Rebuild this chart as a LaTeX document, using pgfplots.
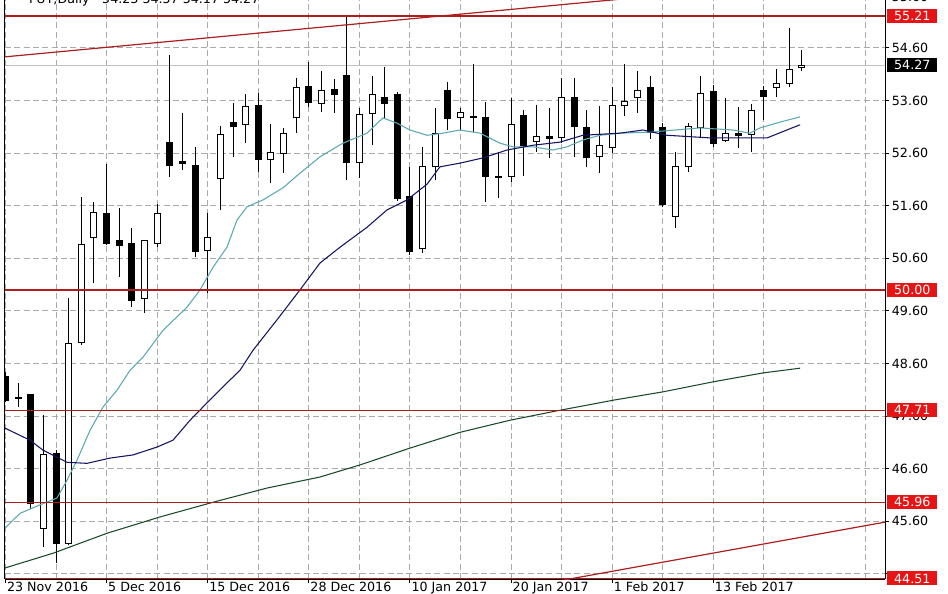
\documentclass[border=0pt]{standalone}
\usepackage{fontspec}
\setmainfont{DejaVu Sans}
\usepackage{pgfplots}
\pgfplotsset{compat=1.18}
\usepackage{pgfplotstable}
\usetikzlibrary{calc}

\definecolor{lvl}{RGB}{175,30,30}
\definecolor{tagred}{RGB}{230,20,20}
\definecolor{maf}{RGB}{90,170,175}
\definecolor{mas}{RGB}{20,20,100}
\definecolor{mal}{RGB}{25,75,40}
\definecolor{gridc}{RGB}{170,170,170}

% daily candles, bar index i (0 = 23 Nov 2016)
\pgfplotstableread{
i o h l c
3 45.47 47.62 45.11 46.86
5 45.18 49.84 45.14 48.97
6 48.99 51.77 48.95 50.87
7 51.00 51.67 50.13 51.48
11 49.84 50.95 49.56 50.93
12 50.89 51.63 50.81 51.46
16 50.74 51.46 49.94 51.00
17 52.11 53.12 51.52 52.96
19 53.14 53.72 52.79 53.48
21 52.47 53.15 52.03 52.62
22 52.60 53.08 52.22 52.98
23 53.27 54.03 52.98 53.84
25 53.55 54.16 53.38 53.80
28 52.43 53.46 52.13 53.33
29 53.36 54.07 52.75 53.71
33 50.78 52.72 50.70 52.34
34 52.34 53.46 52.09 52.98
36 53.27 53.46 53.04 53.38
40 52.15 53.65 52.05 53.14
42 52.83 53.52 52.62 52.91
44 52.89 54.03 52.79 53.65
47 52.53 53.50 52.22 52.75
48 52.70 53.86 52.60 53.50
49 53.50 54.30 53.31 53.59
50 53.65 54.16 53.36 53.80
53 51.40 52.62 51.18 52.34
54 52.34 53.17 52.24 53.10
55 53.08 54.07 52.89 53.74
57 52.85 53.65 52.81 52.98
59 52.96 53.53 52.62 53.42
61 53.84 54.20 53.67 53.93
62 53.92 54.98 53.86 54.20
63 54.23 54.57 54.17 54.27
}\bull

\pgfplotstableread{
i o h l c
0 48.36 48.44 47.87 47.90
1 47.95 48.23 47.77 47.93
2 48.00 48.02 45.83 45.94
4 46.89 46.95 44.80 45.18
8 51.46 52.39 50.85 50.89
9 50.93 51.56 50.24 50.85
10 50.89 51.18 49.67 49.79
13 52.81 54.47 52.15 52.37
14 52.45 53.36 52.28 52.41
15 52.36 52.72 50.62 50.72
18 53.19 53.55 52.53 53.10
20 53.50 53.74 52.24 52.47
24 53.86 54.33 53.48 53.57
26 53.82 54.01 53.36 53.71
27 54.07 55.21 52.09 52.43
30 53.65 54.24 53.27 53.55
31 53.71 53.76 51.69 51.73
32 51.77 52.34 50.66 50.72
35 53.80 53.95 53.04 53.25
37 53.29 54.30 53.00 53.28
38 53.27 53.57 51.67 52.15
39 52.16 52.62 51.75 52.14
41 53.31 53.42 52.17 52.74
43 52.91 53.46 52.51 52.87
45 53.65 54.03 52.53 53.10
46 53.08 53.42 52.34 52.51
51 53.84 54.07 52.87 53.00
52 53.08 53.17 51.58 51.63
56 53.78 53.90 52.72 52.79
58 52.98 53.48 52.70 52.93
60 53.80 53.88 53.23 53.67
}\bear

\begin{document}
\begin{tikzpicture}
\begin{axis}[
    name=ax,
    scale only axis,
    width=660pt, height=434.25pt,
    xmin=-0.04, xmax=69.58,
    ymin=44.50, ymax=55.513,
    clip mode=individual,
    axis x line*=bottom, axis y line*=right,
    axis line style={black, line width=0.75pt, -},
    font=\fontsize{9.5}{11}\selectfont,
    xtick={0,8,...,56},
    xticklabels={23 Nov 2016,5 Dec 2016,15 Dec 2016,28 Dec 2016,10 Jan 2017,20 Jan 2017,1 Feb 2017,13 Feb 2017},
    minor xtick={4,12,...,68},
    ytick={44.6,45.6,46.6,47.6,48.6,49.6,50.6,51.6,52.6,53.6,54.6},
    yticklabels={,45.60,46.60,47.60,48.60,49.60,50.60,51.60,52.60,53.60,54.60},
    grid=both,
    major grid style={gridc, dash pattern=on 4.5pt off 2.5pt, line width=0.75pt},
    minor grid style={gridc, dash pattern=on 4.5pt off 2.5pt, line width=0.75pt},
    tick align=outside,
    major tick length=3pt, minor tick length=0pt,
    tick style={black, line width=0.75pt},
    xticklabel style={anchor=north west, inner sep=0pt, xshift=1pt, yshift=1pt},
    yticklabel style={anchor=west, inner sep=0pt, xshift=2pt},
]
% last price line
\addplot[black!25, line width=0.75pt] coordinates {(-1,54.27) (71,54.27)};

% wicks
\addplot[draw=none, mark=none, error bars/.cd, y dir=plus, y explicit,
    error mark=none, error bar style={draw=black, line width=0.75pt}]
    table[x=i, y=l, y error plus expr=\thisrow{h}-\thisrow{l}] {\bear};
\addplot[draw=none, mark=none, error bars/.cd, y dir=plus, y explicit,
    error mark=none, error bar style={draw=black, line width=0.75pt}]
    table[x=i, y=l, y error plus expr=\thisrow{h}-\thisrow{l}] {\bull};

% bodies
\addplot[draw=none, mark=none, error bars/.cd, y dir=plus, y explicit,
    error mark=none, error bar style={draw=black, line width=5.25pt}]
    table[x=i, y expr=\thisrow{c}-0.0095, y error plus expr=\thisrow{o}-\thisrow{c}+0.019] {\bear};
\addplot[draw=none, mark=none, error bars/.cd, y dir=plus, y explicit,
    error mark=none, error bar style={draw=black, line width=5.25pt}]
    table[x=i, y expr=\thisrow{o}-0.0095, y error plus expr=\thisrow{c}-\thisrow{o}+0.019] {\bull};
\addplot[draw=none, mark=none, error bars/.cd, y dir=plus, y explicit,
    error mark=none, error bar style={draw=white, line width=3.75pt}]
    table[x=i, y expr=\thisrow{o}+0.0095, y error plus expr=\thisrow{c}-\thisrow{o}-0.019] {\bull};

% moving averages
\addplot[maf, line width=0.8pt] coordinates {
(-0.04,45.47)(1.15,45.75)(2.73,45.91)(4.07,46.04)(4.87,46.38)(5.66,46.76)(6.69,47.33)(7.71,47.77)
(8.82,48.09)(9.85,48.47)(10.88,48.72)(12.46,49.23)(14.36,49.67)(15.39,50.00)(16.42,50.43)(17.52,50.81)
(18.32,51.33)(19.11,51.58)(20.37,51.71)(21.95,51.94)(23.30,52.22)(24.88,52.53)(26.70,52.79)(28.60,52.98)
(29.86,53.27)(30.97,53.17)(32.00,53.04)(33.35,52.94)(34.61,52.98)(35.96,53.04)(37.54,52.98)(39.12,52.79)
(40.15,52.72)(41.73,52.72)(43.31,52.66)(44.42,52.72)(45.68,52.85)(47.03,52.94)(48.61,52.98)(50.98,53.00)
(54.94,53.08)(57.55,53.04)(58.90,52.98)(59.69,53.08)(61.27,53.19)(62.86,53.29)};
\addplot[mas, line width=0.8pt] coordinates {
(-0.04,47.37)(1.94,47.14)(2.97,46.95)(4.87,46.72)(6.45,46.70)(8.27,46.80)(10.09,46.86)(11.99,47.01)
(13.25,47.14)(14.60,47.52)(15.94,47.85)(17.52,48.23)(18.55,48.47)(19.58,48.85)(21.48,49.43)(23.30,50.00)
(24.88,50.51)(26.46,50.81)(28.60,51.19)(30.18,51.52)(31.76,51.71)(33.35,52.01)(34.37,52.34)(35.96,52.41)
(37.78,52.51)(39.68,52.66)(41.73,52.75)(43.87,52.81)(45.68,52.94)(48.61,52.98)(50.43,53.04)(52.33,52.94)
(55.74,52.89)(60.25,52.89)(62.86,53.14)};
\addplot[mal, line width=0.8pt] coordinates {
(-0.04,44.71)(3.76,44.99)(8.03,45.37)(12.22,45.68)(16.42,45.96)(20.69,46.23)(24.88,46.44)(28.05,46.67)
(32.00,46.99)(35.96,47.29)(39.91,47.52)(43.87,47.71)(48.06,47.90)(52.02,48.06)(55.97,48.25)(59.93,48.42)
(62.86,48.51)};

% levels and trend lines
\addplot[lvl, line width=1.1pt] coordinates {(-1,55.21) (71,55.21)};
\addplot[lvl, line width=1.1pt] coordinates {(-1,50.00) (71,50.00)};
\addplot[lvl, line width=1.1pt] coordinates {(-1,47.71) (71,47.71)};
\addplot[lvl, line width=1.1pt] coordinates {(-1,45.96) (71,45.96)};
\addplot[lvl, line width=1.1pt] coordinates {(-1,44.51) (71,44.51)};
\addplot[lvl, line width=0.9pt] coordinates {(-1,54.41) (70,56.01)};
\addplot[lvl, line width=0.9pt] coordinates {(40,44.30) (70,45.60)};

% left border
\draw[black, line width=0.75pt] (rel axis cs:0,0) -- (rel axis cs:0,1);

% price tags
\begin{scope}[every node/.style={anchor=west, inner sep=0pt, minimum width=37.5pt,
    minimum height=10.5pt, text=white, xshift=1.5pt}]
\node[fill=tagred] at (axis cs:69.58,55.21) {55.21};
\node[fill=black]  at (axis cs:69.58,54.27) {54.27};
\node[fill=tagred] at (axis cs:69.58,50.00) {50.00};
\node[fill=tagred] at (axis cs:69.58,47.71) {47.71};
\node[fill=tagred] at (axis cs:69.58,45.96) {45.96};
\node[fill=tagred] at (axis cs:69.58,44.51) {44.51};
\end{scope}
\node[anchor=west, inner sep=0pt, xshift=5pt] at (axis cs:69.58,55.58) {55.60};
\end{axis}
\node[anchor=base west, font=\fontsize{9.5}{11}\selectfont] at ($(ax.north west)+(6pt,-2.5pt)$)
    {• FUT,Daily\quad 54.23 54.57 54.17 54.27};
\pgfresetboundingbox
\path[use as bounding box] ($(ax.south west)+(-3.75pt,-10.5pt)$) rectangle ($(ax.north east)+(47.25pt,0pt)$);
\end{tikzpicture}
\end{document}
